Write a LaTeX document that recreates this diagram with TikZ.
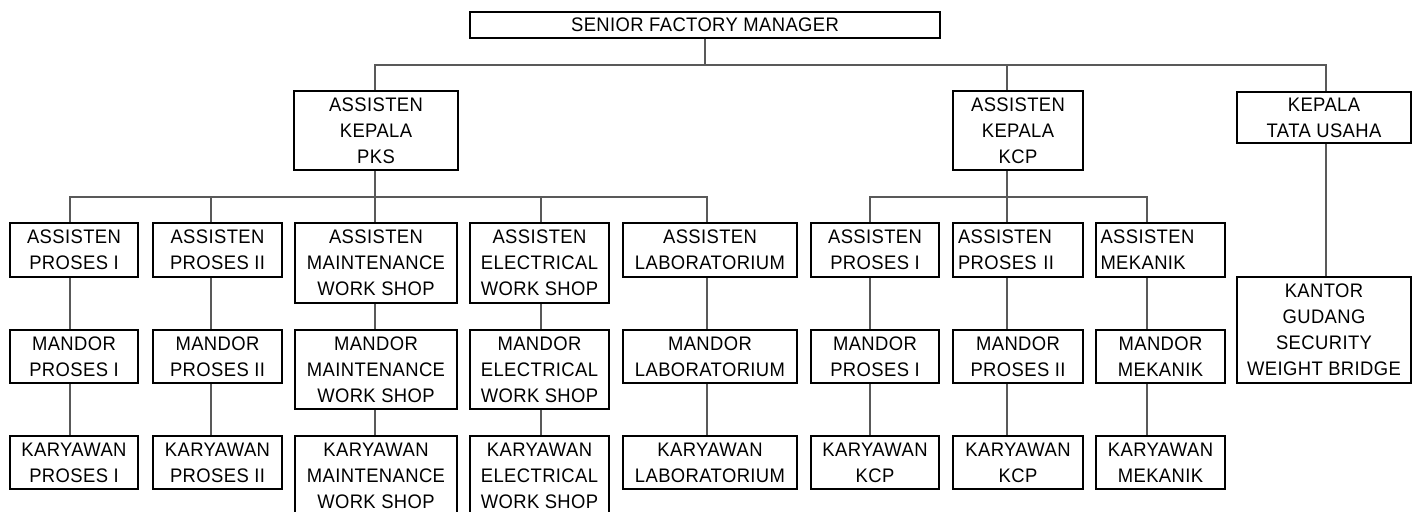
\documentclass[tikz,border=0pt]{standalone}
\usepackage{fontspec}
\setmainfont{Liberation Sans}[FakeStretch=0.94, LetterSpace=2]
\usetikzlibrary{backgrounds}
\newcommand\orgfont{\fontsize{9.8pt}{13pt}\selectfont}
\tikzset{
  box/.style={draw, line width=1.45pt, inner sep=0pt, align=center, font=\orgfont},
  lbox/.style={box, align=left, text width=60pt},
  twoA/.style={minimum height=27pt},
  threeA/.style={minimum height=40pt},
  twoB/.style={minimum height=26.5pt},
  threeB/.style={minimum height=39.5pt},
  conn/.style={draw=black!65, line width=0.55pt},
}
\begin{document}
\begin{tikzpicture}[x=0.5pt, y=-0.5pt]
\useasboundingbox (0,0) rectangle (1418,512);
% column line positions
\coordinate (c1) at (70,0);
\coordinate (c2) at (211,0);
\coordinate (c3) at (375,0);
\coordinate (c4) at (541,0);
\coordinate (c5) at (707,0);
\coordinate (c6) at (870,0);
\coordinate (c7) at (1007,0);
\coordinate (c8) at (1147,0);
\coordinate (ctu) at (1326,0);
\coordinate (bus0) at (0,65);
\coordinate (bus1) at (0,197);

% top levels
\node[box, minimum width=235pt, minimum height=13pt] (top) at (705,25) {SENIOR FACTORY MANAGER};
\node[box, minimum width=82pt, minimum height=39.5pt] (pks) at (376,130.5) {ASSISTEN\\KEPALA\\PKS};
\node[box, minimum width=65pt, minimum height=39.5pt] (kcp) at (1018,130.5) {ASSISTEN\\KEPALA\\KCP};
\node[box, minimum width=87pt, minimum height=25.5pt] (tu) at (1324,117.5) {KEPALA\\TATA USAHA};
\node[box, minimum width=87pt, minimum height=53pt] (kantor) at (1324,330) {KANTOR\\GUDANG\\SECURITY\\WEIGHT BRIDGE};

% row: assisten
\node[box, twoA, minimum width=64pt] (a1) at (74,250) {ASSISTEN\\PROSES I};
\node[box, twoA, minimum width=64.5pt] (a2) at (217.5,250) {ASSISTEN\\PROSES II};
\node[box, threeA, minimum width=81pt] (a3) at (376,263) {ASSISTEN\\MAINTENANCE\\WORK SHOP};
\node[box, threeA, minimum width=69.5pt] (a4) at (539.5,263) {ASSISTEN\\ELECTRICAL\\WORK SHOP};
\node[box, twoA, minimum width=87pt] (a5) at (710,250) {ASSISTEN\\LABORATORIUM};
\node[box, twoA, minimum width=64pt] (a6) at (875,250) {ASSISTEN\\PROSES I};
\node[lbox, twoA, minimum width=65pt] (a7) at (1018,250) {ASSISTEN\\PROSES II};
\node[lbox, twoA, minimum width=64.5pt] (a8) at (1160.5,250) {ASSISTEN\\MEKANIK};

% row: mandor
\node[box, twoB, minimum width=64pt] (m1) at (74,356.5) {MANDOR\\PROSES I};
\node[box, twoB, minimum width=64.5pt] (m2) at (217.5,356.5) {MANDOR\\PROSES II};
\node[box, threeB, minimum width=81pt] (m3) at (376,369.5) {MANDOR\\MAINTENANCE\\WORK SHOP};
\node[box, threeB, minimum width=69.5pt] (m4) at (539.5,369.5) {MANDOR\\ELECTRICAL\\WORK SHOP};
\node[box, twoB, minimum width=87pt] (m5) at (710,356.5) {MANDOR\\LABORATORIUM};
\node[box, twoB, minimum width=64pt] (m6) at (875,356.5) {MANDOR\\PROSES I};
\node[box, twoB, minimum width=65pt] (m7) at (1018,356.5) {MANDOR\\PROSES II};
\node[box, twoB, minimum width=64.5pt] (m8) at (1160.5,356.5) {MANDOR\\MEKANIK};

% row: karyawan
\node[box, twoB, minimum width=64pt] (k1) at (74,462.5) {KARYAWAN\\PROSES I};
\node[box, twoB, minimum width=64.5pt] (k2) at (217.5,462.5) {KARYAWAN\\PROSES II};
\node[box, threeA, minimum width=81pt] (k3) at (376,476) {KARYAWAN\\MAINTENANCE\\WORK SHOP};
\node[box, threeA, minimum width=69.5pt] (k4) at (539.5,476) {KARYAWAN\\ELECTRICAL\\WORK SHOP};
\node[box, twoB, minimum width=87pt] (k5) at (710,462.5) {KARYAWAN\\LABORATORIUM};
\node[box, twoB, minimum width=64pt] (k6) at (875,462.5) {KARYAWAN\\KCP};
\node[box, twoB, minimum width=65pt] (k7) at (1018,462.5) {KARYAWAN\\KCP};
\node[box, twoB, minimum width=64.5pt] (k8) at (1160.5,462.5) {KARYAWAN\\MEKANIK};

\begin{scope}[on background layer]
  % level 1
  \draw[conn] (top.south) -- (top.south |- bus0);
  \draw[conn] (c3 |- pks.north) |- (ctu |- bus0) -- (ctu |- tu.north);
  \draw[conn] (c7 |- kcp.north) -- (c7 |- bus0);
  \draw[conn] (ctu |- tu.south) -- (ctu |- kantor.north);
  % level 2
  \draw[conn] (c3 |- pks.south) -- (c3 |- a3.north);
  \draw[conn] (c1 |- a1.north) |- (c5 |- bus1) -- (c5 |- a5.north);
  \draw[conn] (c2 |- a2.north) -- (c2 |- bus1);
  \draw[conn] (c4 |- a4.north) -- (c4 |- bus1);
  \draw[conn] (c7 |- kcp.south) -- (c7 |- a7.north);
  \draw[conn] (c6 |- a6.north) |- (c8 |- bus1) -- (c8 |- a8.north);
  % level 3 and 4
  \foreach \i/\c in {1/c1,2/c2,3/c3,4/c4,5/c5,6/c6,7/c7,8/c8}{
    \draw[conn] (\c |- a\i.south) -- (\c |- m\i.north);
    \draw[conn] (\c |- m\i.south) -- (\c |- k\i.north);
  }
\end{scope}
\end{tikzpicture}
\end{document}
